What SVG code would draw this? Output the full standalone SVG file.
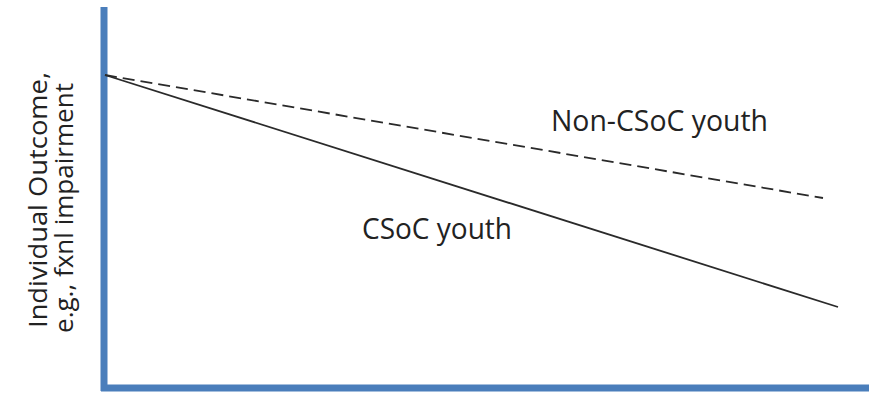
<svg xmlns="http://www.w3.org/2000/svg" width="871" height="393" viewBox="0 0 871 393">
<style>
.lbl{font-family:"Open Sans","Liberation Sans",sans-serif;fill:#222;}
.axis{stroke:#4a7ebb;stroke-width:7;fill:none;}
.ln{stroke:#2a2a2a;stroke-width:1.8;fill:none;}
</style>
<rect width="871" height="393" fill="#fff"/>
<g id="axes">
<line class="axis" x1="104" y1="7" x2="104" y2="391"/>
<line class="axis" x1="101" y1="388" x2="869" y2="388"/>
</g>
<g id="connectors">
<line id="csoc-line" class="ln" x1="105" y1="75" x2="838" y2="307"/>
<line id="noncsoc-line" class="ln" x1="105" y1="75" x2="823" y2="198" stroke-dasharray="12,6"/>
</g>
<g id="label-noncsoc"><text class="lbl" x="551" y="131" font-size="30" textLength="217" lengthAdjust="spacingAndGlyphs">Non-CSoC youth</text></g>
<g id="label-csoc"><text class="lbl" x="362" y="239" font-size="30" textLength="150" lengthAdjust="spacingAndGlyphs">CSoC youth</text></g>
<g id="label-yaxis">
<text class="lbl" transform="translate(47,200) rotate(-90)" text-anchor="middle" font-size="26" textLength="256" lengthAdjust="spacingAndGlyphs">Individual Outcome,</text>
<text class="lbl" transform="translate(73,208) rotate(-90)" text-anchor="middle" font-size="26" textLength="250" lengthAdjust="spacingAndGlyphs">e.g., fxnl impairment</text>
</g>
</svg>
